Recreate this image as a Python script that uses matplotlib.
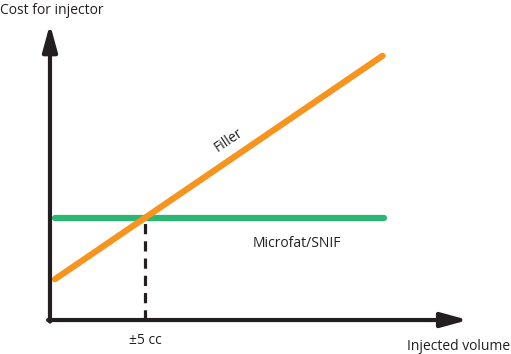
import matplotlib.pyplot as plt

# ── Data (x in cc, y in arbitrary cost units) ────────────────────────────────
filler_x = [0.26, 17.5]
filler_y = [4.0, 25.9]
microfat_x = [0.26, 17.6]
microfat_y = [10.0, 10.0]
cross_x = 5.0
cross_y = 10.0
x_axis_end = 22.0
y_axis_end = 29.0

ORANGE = "#F7941D"
GREEN = "#2BB673"
DARK = "#231F20"
plt.rcParams["font.family"] = ["Open Sans", "DejaVu Sans"]

fig = plt.figure(figsize=(5.11, 3.54), dpi=100)
ax = fig.add_axes([0, 0, 1, 1])
ax.set_xlim(-2.63, 24.26)
ax.set_ylim(-3.33, 31.37)
ax.axis("off")

# axes with arrows
arrow = dict(arrowstyle="-|>,head_length=0.8,head_width=0.22", lw=3.0,
             color=DARK, mutation_scale=20, shrinkA=0, shrinkB=0)
ax.annotate("", xy=(x_axis_end, 0), xytext=(-0.1, 0), arrowprops=arrow)
ax.annotate("", xy=(0, y_axis_end), xytext=(0, -0.15), arrowprops=arrow)

# lines
ax.plot(microfat_x, microfat_y, color=GREEN, lw=4.5, solid_capstyle="round")
ax.plot(filler_x, filler_y, color=ORANGE, lw=4.5, solid_capstyle="round")
ax.plot([cross_x, cross_x], [0, cross_y], color=DARK, lw=2.3,
        linestyle=(0, (3.2, 2.2)))

# texts
fs = 10
ax.text(-2.63, 31.1, "Cost for injector", fontsize=fs, color=DARK,
        ha="left", va="top")
ax.text(24.2, -2.55, "Injected volume", fontsize=fs, color=DARK,
        ha="right", va="center")
ax.text(cross_x, -2.05, "±5 cc", fontsize=fs, color=DARK,
        ha="center", va="center")
ax.text(9.4, 17.6, "Filler", fontsize=fs, color=DARK, rotation=34,
        ha="center", va="center")
ax.text(13.0, 7.55, "Microfat/SNIF", fontsize=fs, color=DARK,
        ha="center", va="center")

fig.savefig("out.png", dpi=100)
